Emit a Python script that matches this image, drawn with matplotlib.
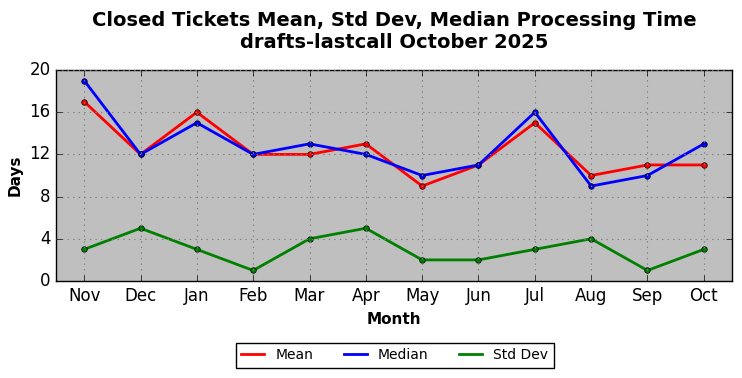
import matplotlib
matplotlib.use("Agg")
from matplotlib import pyplot as plt

plt.style.use("classic")

months = ["Nov", "Dec", "Jan", "Feb", "Mar", "Apr", "May", "Jun", "Jul", "Aug", "Sep", "Oct"]
mean = [17, 12, 16, 12, 12, 13, 9, 11, 15, 10, 11, 11]
median = [19, 12, 15, 12, 13, 12, 10, 11, 16, 9, 10, 13]
std_dev = [3, 5, 3, 1, 4, 5, 2, 2, 3, 4, 1, 3]

fig = plt.figure(figsize=(7.42, 3.78), dpi=100)
fig.patch.set_facecolor("white")
ax = fig.add_axes([0.0755, 0.2566, 0.911, 0.5582])
ax.set_facecolor("#bfbfbf")

x = range(len(months))
ax.plot(x, mean, color="red", linewidth=2, marker="o", markersize=4, label="Mean")
ax.plot(x, median, color="blue", linewidth=2, marker="o", markersize=4, label="Median")
ax.plot(x, std_dev, color="green", linewidth=2, marker="o", markersize=4, label="Std Dev")

ax.set_xlim(-0.5, len(months) - 0.5)
ax.set_ylim(0, 20)
ax.set_yticks([0, 4, 8, 12, 16, 20])
ax.set_xticks(list(x))
ax.set_xticklabels(months)
ax.tick_params(labelsize=12)
ax.grid(True, color="#808080", linestyle=":", linewidth=0.8)

ax.set_xlabel("Month", fontsize=11, fontweight="bold")
ax.set_ylabel("Days", fontsize=11, fontweight="bold")
ax.set_title("Closed Tickets Mean, Std Dev, Median Processing Time\ndrafts-lastcall October 2025",
             fontsize=14, fontweight="bold", pad=16)

leg = fig.legend(loc="center", bbox_to_anchor=(0.532, 0.06), ncol=3, fontsize=10,
                 frameon=True, fancybox=False, columnspacing=2.2, handlelength=1.65,
                 numpoints=1)
for line in leg.get_lines():
    line.set_marker("")

fig.savefig("out.png", dpi=100)
